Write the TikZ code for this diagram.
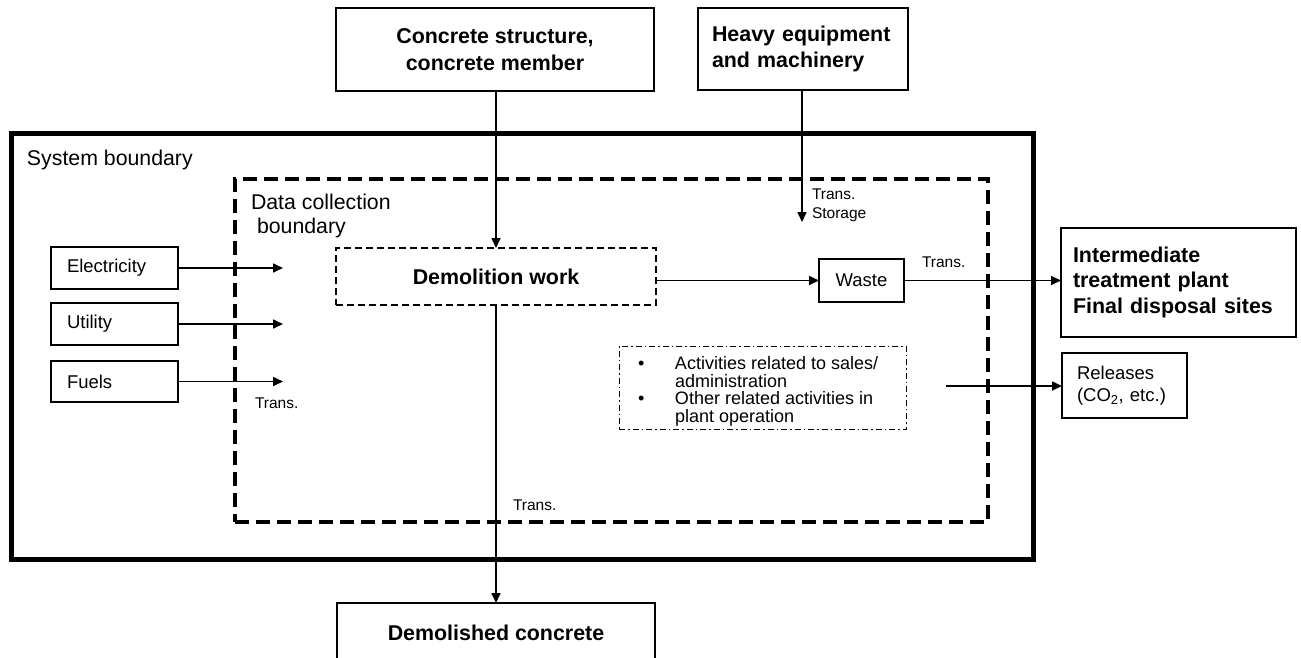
\documentclass[tikz,border=0pt]{standalone}
\usepackage{fontspec}
\setmainfont{Liberation Sans}
\usetikzlibrary{arrows.meta}

\begin{document}
\begin{tikzpicture}[x=1pt,y=-1pt,
  every node/.style={inner sep=0pt, outer sep=0pt},
  titlefont/.style={font=\fontsize{21.4}{26.5}\selectfont\bfseries},
  labelfont/.style={font=\fontsize{18.5}{22}\selectfont},
  smallfont/.style={font=\fontsize{15.5}{19}\selectfont},
  bigbox/.style={draw, line width=2pt, rectangle, titlefont},
  smallbox/.style={draw, line width=1.3pt, rectangle, labelfont},
  flow/.style={line width=1.6pt, -{Triangle[length=10pt,width=9pt]}},
  sysframe/.style={draw, line width=5pt, rectangle},
  dataframe/.style={draw, line width=4.5pt, rectangle, dash pattern=on 14pt off 7pt},
  processbox/.style={draw, line width=1.3pt, rectangle, dash pattern=on 7pt off 4pt},
  activitybox/.style={draw, line width=1pt, rectangle, dash pattern=on 6pt off 3pt on 1.5pt off 3pt}
]
\clip (0,0) rectangle (1301,657);

% boundaries
\node[sysframe, minimum width=1022, minimum height=426] (sys) at (522,346) {};
\node[dataframe, minimum width=753, minimum height=343] (data) at (611.5,350.5) {};
\node[anchor=base west, font=\fontsize{21.3}{24}\selectfont] (syslabel) at (27,165) {System boundary};
\node[anchor=north west, align=left, font=\fontsize{21.3}{24}\selectfont] (datalabel) at (251,194) {Data collection\\\hspace{6pt}boundary};

% inputs from outside
\node[bigbox, minimum width=318, minimum height=83, align=center] (concrete) at (495,49.5) {Concrete structure,\\concrete member};
\node[smallbox, titlefont, line width=1.2pt, minimum width=210, minimum height=82, text width=182, align=left] (heavy) at (803,49) {Heavy equipment\\and machinery};

% energy inputs
\node[smallbox, minimum width=127, minimum height=42, text width=95, align=left] (elec) at (114.5,268) {Electricity};
\node[smallbox, minimum width=127, minimum height=42, text width=95, align=left] (util) at (114.5,324) {Utility};
\node[smallbox, minimum width=127, minimum height=41, text width=95, align=left] (fuel) at (114.5,381.5) {Fuels};
\coordinate (elecend) at (283,268);
\coordinate (utilend) at (283,324);
\coordinate (fuelend) at (283,381.5);

% process
\node[processbox, titlefont, minimum width=320, minimum height=57] (demol) at (496,276.5) {Demolition work};
\node[smallbox, minimum width=85, minimum height=43] (waste) at (861.5,280.5) {Waste};
\node[bigbox, minimum width=235, minimum height=109, text width=211, align=left, font=\fontsize{21.4}{25.5}\selectfont\bfseries] (inter) at (1178.5,282) {Intermediate\\treatment plant\\Final disposal sites};
\node[activitybox, minimum width=287, minimum height=83] (act) at (762.5,387.5) {};
\node[anchor=west, align=left, font=\fontsize{18}{17.6}\selectfont] (acttext) at (638,391.5)
  {\makebox[37pt][l]{•}Activities related to sales/\\\hspace*{37pt}administration\\\makebox[37pt][l]{•}Other related activities in\\\hspace*{37pt}plant operation};
\node[smallbox, minimum width=125, minimum height=65, text width=95, align=left] (rel) at (1124.5,385.5) {Releases\\(CO\textsubscript{2}, etc.)};
\coordinate (relstart) at (946,386);
\coordinate (heavyend) at (802,222);
\node[bigbox, minimum width=318, minimum height=60] (demolished) at (496,633) {Demolished concrete};

% flows
\draw[flow] (concrete.south -| demol.north) -- (demol.north);
\draw[flow] (heavy.south -| heavyend) -- (heavyend);
\draw[flow] (elec.east) -- (elecend);
\draw[flow] (util.east) -- (utilend);
\draw[flow] (fuel.east) -- (fuelend);
\draw[flow] (demol.east |- waste.west) -- (waste.west);
\draw[flow] (waste.east) -- (waste.east -| inter.west);
\draw[flow] (relstart) -- (relstart -| rel.west);
\draw[flow] (demol.south) -- (demolished.north);

% transport labels
\node[smallfont, anchor=west] (tfuel) at (255,403) {Trans.};
\node[smallfont, anchor=west, align=left] (theavy) at (812,205) {Trans.\\Storage};
\node[smallfont, anchor=west] (twaste) at (922,262) {Trans.};
\node[smallfont, anchor=west] (tdemol) at (513,505) {Trans.};
\end{tikzpicture}
\end{document}
